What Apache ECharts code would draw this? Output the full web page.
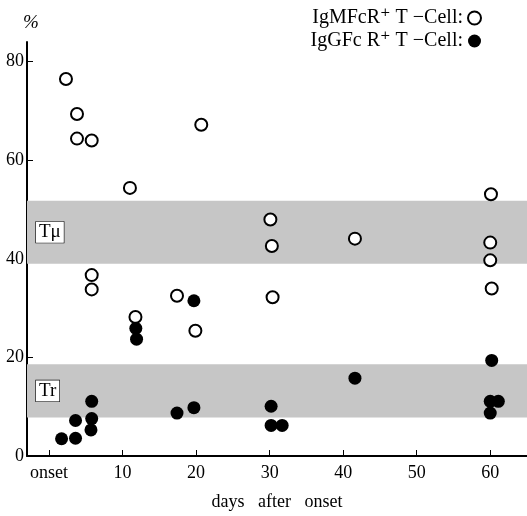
<!DOCTYPE html>
<html>
<head>
<meta charset="utf-8">
<script src="https://cdn.jsdelivr.net/npm/echarts@6/dist/echarts.min.js"></script>
<style>html,body{margin:0;padding:0;background:#fff}#c{width:527px;height:516px}</style>
</head>
<body>
<div id="c"></div>
<script>
// Days after onset (x) and percentage (y)
const igmDays = [2.3, 3.8, 3.8, 5.8, 20.7, 11.0, 5.8, 5.8, 11.75, 17.4, 19.9, 30.1, 30.3, 30.4, 41.6, 60.1, 60.0, 60.0, 60.2];
const igmValues = [76.5, 69.4, 64.4, 64.0, 67.2, 54.4, 36.7, 33.8, 28.2, 32.5, 25.4, 48.0, 42.6, 32.2, 44.1, 53.1, 43.3, 39.7, 34.0];
const iggDays = [19.7, 11.8, 11.9, 1.7, 3.6, 3.6, 5.8, 5.8, 5.7, 17.4, 19.7, 30.2, 30.2, 31.7, 41.6, 60.2, 60.0, 61.1, 60.0];
const iggValues = [31.5, 25.9, 23.7, 3.5, 3.6, 7.2, 11.1, 7.6, 5.3, 8.7, 9.8, 10.1, 6.2, 6.2, 15.8, 19.4, 11.1, 11.1, 8.7];
const xTicks = [0, 10, 20, 30, 40, 50, 60];
const yTicks = [0, 20, 40, 60, 80];
const bandTmu = [39, 51.8];
const bandTr = [7.8, 18.6];
const seriesNames = ['IgMFcR\u207A T \u2212Cell:', 'IgGFc R\u207A T \u2212Cell:'];

const font = '"Liberation Serif", "DejaVu Serif", serif';
const zip = (a, b) => a.map((v, i) => [v, b[i]]);

const chart = echarts.init(document.getElementById('c'), null, {renderer: 'canvas'});
chart.setOption({
  animation: false,
  backgroundColor: '#fff',
  textStyle: {fontFamily: font, color: '#000'},
  legend: {
    orient: 'vertical',
    right: 40,
    top: 3,
    align: 'right',
    itemGap: 3,
    itemWidth: 13,
    itemHeight: 13,
    textStyle: {fontFamily: font, fontSize: 20, color: '#000'},
    data: [
      {name: seriesNames[0], icon: 'circle'},
      {name: seriesNames[1], icon: 'circle'}
    ]
  },
  grid: {left: 27, right: 0, top: 42, bottom: 60, containLabel: false},
  xAxis: {
    type: 'value',
    min: -3,
    max: 65,
    name: 'days   after   onset',
    nameLocation: 'middle',
    nameGap: 37,
    nameTextStyle: {fontFamily: font, fontSize: 18, color: '#000'},
    axisLine: {show: true, onZero: false, lineStyle: {color: '#000', width: 2}},
    axisTick: {show: true, inside: true, length: 6, customValues: xTicks, lineStyle: {color: '#000'}},
    axisLabel: {
      customValues: xTicks,
      fontFamily: font, fontSize: 18, color: '#000', margin: 8,
      formatter: v => (v === 0 ? 'onset' : String(v))
    },
    splitLine: {show: false}
  },
  yAxis: {
    type: 'value',
    min: 0,
    max: 84,
    name: '%',
    nameLocation: 'end',
    nameGap: 10,
    nameTextStyle: {fontFamily: font, fontSize: 19, fontStyle: 'italic', color: '#000', align: 'left', padding: [0, 0, 0, -4]},
    axisLine: {show: true, onZero: false, lineStyle: {color: '#000', width: 2}},
    axisTick: {show: true, inside: true, length: 6, customValues: yTicks, lineStyle: {color: '#000'}},
    axisLabel: {customValues: yTicks, fontFamily: font, fontSize: 18, color: '#000', margin: 3},
    splitLine: {show: false}
  },
  series: [
    {
      name: seriesNames[0],
      type: 'scatter',
      symbol: 'circle',
      symbolSize: 12,
      z: 5,
      itemStyle: {color: '#fff', borderColor: '#000', borderWidth: 2, opacity: 1},
      data: zip(igmDays, igmValues),
      markArea: {
        silent: true,
        itemStyle: {color: '#c6c6c6'},
        label: {
          show: true,
          position: 'insideLeft',
          distance: 9,
          fontFamily: font,
          fontSize: 19,
          color: '#000',
          backgroundColor: '#fff',
          borderColor: '#000',
          borderWidth: 0.6,
          padding: [2, 3, 0, 3]
        },
        data: [
          [{name: 'T\u03BC', yAxis: bandTmu[0], xAxis: -3}, {yAxis: bandTmu[1], xAxis: 65}],
          [{name: 'Tr', yAxis: bandTr[0], xAxis: -3}, {yAxis: bandTr[1], xAxis: 65}]
        ]
      }
    },
    {
      name: seriesNames[1],
      type: 'scatter',
      symbol: 'circle',
      symbolSize: 13,
      z: 6,
      itemStyle: {color: '#000', borderColor: '#000', borderWidth: 0, opacity: 1},
      data: zip(iggDays, iggValues)
    }
  ]
});
</script>
</body>
</html>
